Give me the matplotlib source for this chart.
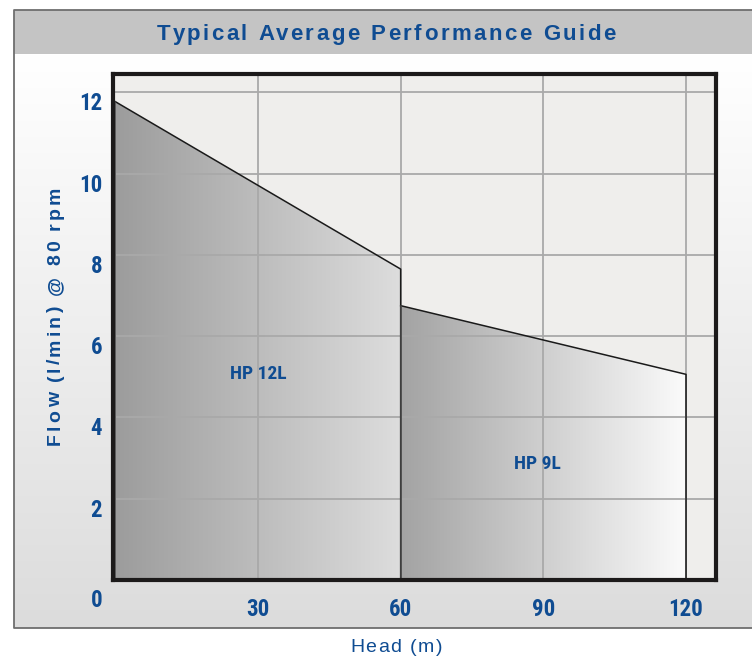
import numpy as np
import matplotlib.pyplot as plt
from matplotlib.colors import LinearSegmentedColormap
from matplotlib.patches import Polygon, Rectangle
from matplotlib.transforms import ScaledTranslation

# values
head_12l = [0, 60]
flow_12l = [11.77, 7.65]
head_9l = [60, 120]
flow_9l = [6.75, 5.06]

x_ticks = [30, 60, 90, 120]
y_ticks = [0, 2, 4, 6, 8, 10, 12]

title = "Typical Average Performance Guide"
x_label = "Head (m)"
y_label = "Flow (l/min) @ 80 rpm"

BLUE = "#0f4c92"
SANS = ["Liberation Sans", "DejaVu Sans"]
COND = ["Roboto Condensed", "Liberation Sans", "DejaVu Sans"]
W, H = 752, 656

fig = plt.figure(figsize=(W / 100, H / 100), dpi=100)

# background decoration, one data unit = one pixel
bg = fig.add_axes([0, 0, 1, 1])
bg.set_xlim(0, W)
bg.set_ylim(H, 0)
bg.axis("off")
grad = np.linspace(0, 1, 256).reshape(-1, 1)
bg_cmap = LinearSegmentedColormap.from_list("bg", ["#ffffff", "#dcdcdc"])
bg.imshow(grad, cmap=bg_cmap, extent=[14, W, 628, 54], aspect="auto", zorder=0)
bg.add_patch(Rectangle((14, 10), W - 14, 44, facecolor="#c4c4c4", edgecolor="none", zorder=1))
bg.plot([W, 14, 14, W], [10, 10, 628, 628], color="#6e6e6e", lw=1.3, zorder=2)


def tracked(x, y, s, span, rotation=0, **kw):
    # letter-spaced text: start at x, baseline at y, stretched to span pixels
    r = fig.canvas.get_renderer()

    def width(t):
        tt = bg.text(0, 0, t + "x", **kw)
        v = tt.get_window_extent(r).width
        tt.remove()
        return v

    wx = width("")
    offs = [width(s[:i]) - wx for i in range(len(s) + 1)]
    track = (span - offs[-1]) / (len(s) - 1)
    for i, ch in enumerate(s):
        if ch == " ":
            continue
        d = offs[i] + i * track
        if rotation:
            bg.text(x, y - d, ch, rotation=90, rotation_mode="anchor",
                    ha="left", va="baseline", **kw)
        else:
            bg.text(x + d, y, ch, ha="left", va="baseline", **kw)


tracked(157, 40, title, 459, color=BLUE, fontsize=16, fontweight="bold", family=SANS)
tracked(350, 652, x_label, 92, color=BLUE, fontsize=14, family=SANS)
tracked(60, 445, y_label, 258, rotation=90, color=BLUE, fontsize=14,
        fontweight="bold", family=SANS)

# main chart area
left, right, top, bottom = 113.3, 716, 74, 580
ax = fig.add_axes([left / W, (H - bottom) / H, (right - left) / W, (bottom - top) / H])
ax.set_facecolor("#efeeec")
ax.set_xlim(-0.42, 126.3)
ax.set_ylim(0, 12.45)


def shaded(xs, ys, c0, c1, label, lx, ly):
    cmap = LinearSegmentedColormap.from_list("g", [c0, c1])
    verts = [(xs[0], 0), (xs[0], ys[0]), (xs[1], ys[1]), (xs[1], 0)]
    poly = Polygon(verts, closed=True, facecolor="none", edgecolor="none")
    ax.add_patch(poly)
    im = ax.imshow(np.linspace(0, 1, 256).reshape(1, -1), cmap=cmap, aspect="auto",
                   extent=[xs[0], xs[1], 0, max(ys)], zorder=1)
    im.set_clip_path(poly)
    ax.plot([xs[0], xs[1], xs[1]], [ys[0], ys[1], 0], color="#1a1a1a", lw=1.1, zorder=4)
    ax.plot([xs[0], xs[0]], [0, ys[0]], color="#4a4a4a", lw=1.1, zorder=4)
    ax.text(lx, ly, label, color=BLUE, fontsize=14, fontweight="bold",
            family=COND, ha="center", va="center", zorder=5)


shaded(head_12l, flow_12l, "#9c9c9c", "#dddddd", "HP 12L", 30, 5.07)
shaded(head_9l, flow_9l, "#a3a3a3", "#fbfbfb", "HP 9L", 88.7, 2.86)

ax.set_axisbelow(False)
ax.grid(True, color="#a9a9a9", lw=1.3)
ax.set_xticks(x_ticks)
ax.set_yticks(y_ticks)
ax.tick_params(length=0, labelsize=16.5, labelcolor=BLUE)
ax.tick_params(axis="x", pad=13)
ax.tick_params(axis="y", pad=8)
for lab in ax.get_xticklabels() + ax.get_yticklabels():
    lab.set_family(COND)
    lab.set_fontweight("bold")
for v, lab in zip(y_ticks, ax.get_yticklabels()):
    dy = -18 if v == 0 else -9
    lab.set_transform(lab.get_transform() + ScaledTranslation(0, dy / 100, fig.dpi_scale_trans))
for s in ax.spines.values():
    s.set_linewidth(3)
    s.set_color("#1c1a1a")
    s.set_zorder(6)

fig.savefig("out.png", dpi=100)
